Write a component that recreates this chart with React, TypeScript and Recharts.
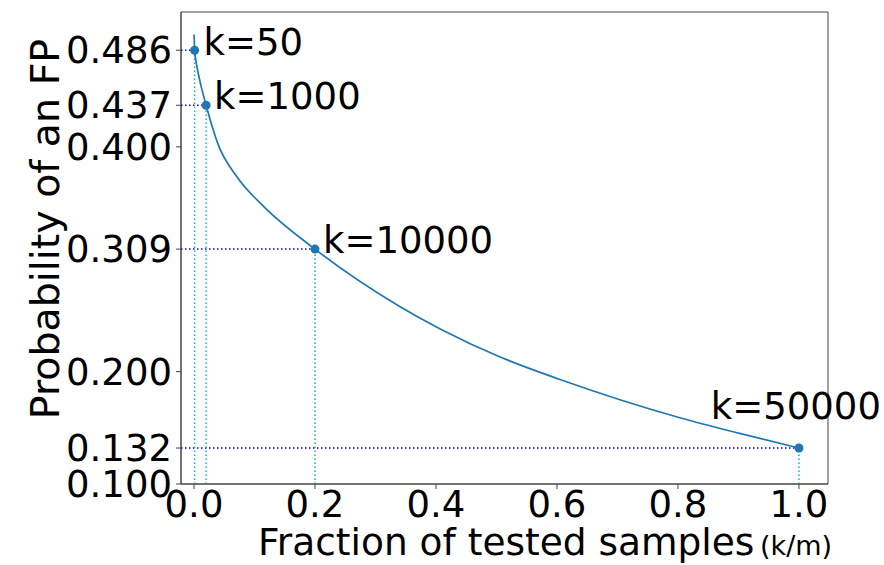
import {
  ComposedChart,
  Line,
  XAxis,
  YAxis,
  ReferenceLine,
  ReferenceArea,
  LabelList,
} from "recharts"

// fraction of tested samples (k/m) and probability of an FP along the curve
const fractions = [0.0002, 0.001, 0.004, 0.01, 0.02, 0.04, 0.07, 0.115, 0.2, 0.34, 0.407, 0.506, 0.605, 0.704, 0.803, 0.902, 1.0]
const probabilities = [0.5, 0.486, 0.474, 0.458, 0.437, 0.402, 0.374, 0.347, 0.309, 0.258, 0.238, 0.213, 0.193, 0.175, 0.159, 0.145, 0.132]

// highlighted k values
const kLabels = ["k=50", "k=1000", "k=10000", "k=50000"]
const kFractions = [0.001, 0.02, 0.2, 1.0]
const kProbabilities = [0.486, 0.437, 0.309, 0.132]

const xTicks = [0, 0.2, 0.4, 0.6, 0.8, 1.0]
const yTicks = [0.1, 0.132, 0.2, 0.309, 0.4, 0.437, 0.486]

const X_MIN = -0.0215
const X_MAX = 1.048
const Y_MIN = 0.1
const Y_MAX = 0.52

const curve = fractions.map((x, i) => ({ x, y: probabilities[i] }))
const marks = kFractions.map((x, i) => ({ x, y: kProbabilities[i], label: kLabels[i] }))

const FONT = "DejaVu Sans"
const BLUE = "#1f77b4"

// where each k label sits relative to its dot
const labelOffsets = [
  { dx: 9, dy: 5, anchor: "start" },
  { dx: 8, dy: 4, anchor: "start" },
  { dx: 8, dy: 4, anchor: "start" },
  { dx: 82, dy: -29, anchor: "end" },
]

const KLabel = (props: any) => {
  const { x, y, value, index } = props
  const o = labelOffsets[index] ?? labelOffsets[0]
  return (
    <text x={x + o.dx} y={y + o.dy} textAnchor={o.anchor} fontFamily={FONT} fontSize={37} fill="#000">
      {value}
    </text>
  )
}

export default function App() {
  return (
    <div style={{ position: "absolute", left: 0, top: 0, width: 884, height: 565, background: "#fff" }}>
      <ComposedChart
        width={884}
        height={565}
        data={curve}
        margin={{ top: 12, right: 56, left: 0, bottom: 0 }}
      >
        <XAxis
          dataKey="x"
          type="number"
          domain={[X_MIN, X_MAX]}
          allowDataOverflow
          ticks={xTicks}
          interval={0}
          tickFormatter={(v: number) => v.toFixed(1)}
          height={81}
          tickSize={5}
          tickMargin={2}
          stroke="#444"
          tick={{ fill: "#000", fontFamily: FONT, fontSize: 37 }}
          label={{
            content: () => (
              <g>
                <text x={258} y={555} fontFamily={FONT} fontSize={37.5} fill="#000">
                  Fraction of tested samples
                </text>
                <text x={760} y={555} fontFamily={FONT} fontSize={27} fill="#000">
                  (k/m)
                </text>
              </g>
            ),
          }}
        />
        <YAxis
          type="number"
          domain={[Y_MIN, Y_MAX]}
          allowDataOverflow
          ticks={yTicks}
          interval={0}
          tickFormatter={(v: number) => v.toFixed(3)}
          width={181}
          tickSize={5}
          tickMargin={4}
          stroke="#444"
          tick={{ fill: "#000", fontFamily: FONT, fontSize: 37 }}
          label={{
            content: () => (
              <text
                x={45}
                y={229}
                transform="rotate(-90 45 229)"
                textAnchor="middle"
                dominantBaseline="central"
                fontFamily={FONT}
                fontSize={39.5}
                fill="#000"
              >
                Probability of an FP
              </text>
            ),
          }}
        />
        <ReferenceArea x1={X_MIN} x2={X_MAX} y1={Y_MIN} y2={Y_MAX} fill="none" stroke="#444" strokeWidth={1} ifOverflow="visible" />
        {marks.map((m) => (
          <ReferenceLine
            key={"h" + m.label}
            segment={[{ x: X_MIN, y: m.y }, { x: m.x, y: m.y }]}
            stroke="#0000ff"
            strokeWidth={1.5}
            strokeDasharray="1.5 2.5"
          />
        ))}
        {marks.map((m) => (
          <ReferenceLine
            key={"v" + m.label}
            segment={[{ x: m.x, y: Y_MIN }, { x: m.x, y: m.y }]}
            stroke="#00bfbf"
            strokeWidth={1.5}
            strokeDasharray="1.5 2.5"
          />
        ))}
        <Line
          dataKey="y"
          type="monotone"
          stroke={BLUE}
          strokeWidth={1.7}
          dot={false}
          isAnimationActive={false}
        />
        <Line
          data={marks}
          dataKey="y"
          stroke="none"
          dot={{ r: 4.5, fill: BLUE, stroke: "none" }}
          activeDot={false}
          isAnimationActive={false}
        >
          <LabelList dataKey="label" content={<KLabel />} />
        </Line>
      </ComposedChart>
    </div>
  )
}
